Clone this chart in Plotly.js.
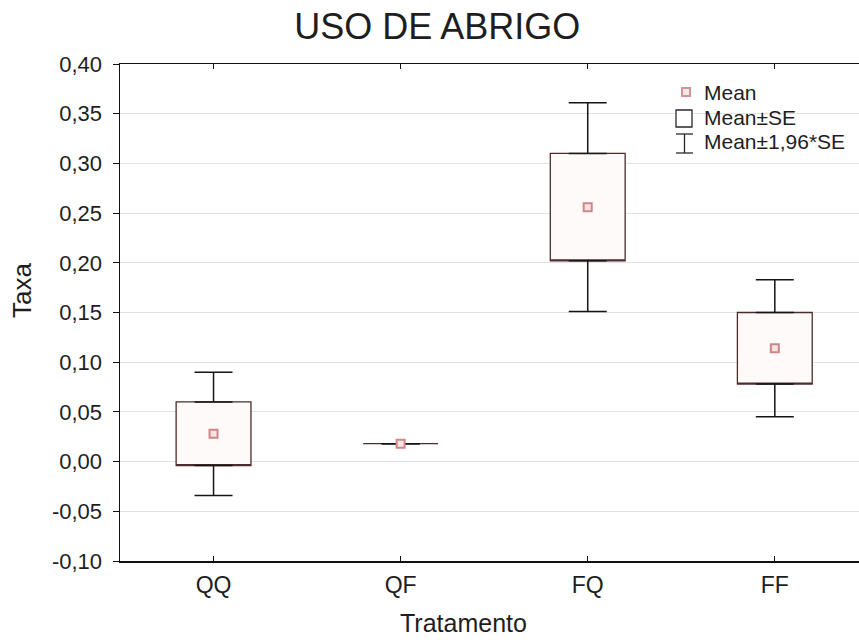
<!DOCTYPE html>
<html>
<head>
<meta charset="utf-8">
<script src="https://cdn.plot.ly/plotly-3.0.1.min.js"></script>
<style>html,body{margin:0;padding:0;background:#fff;}#chart{width:859px;height:640px;}</style>
</head>
<body>
<div id="chart"></div>
<script>
// Data
const categories = ['QQ', 'QF', 'FQ', 'FF'];
const meanVals   = [0.028, 0.018, 0.256, 0.114];
const seVals     = [0.032, 0.000, 0.054, 0.036];
const ci196Vals  = [0.062, 0.000, 0.105, 0.069];
const yTickVals  = [-0.10, -0.05, 0.00, 0.05, 0.10, 0.15, 0.20, 0.25, 0.30, 0.35, 0.40];
const yTickText  = ['-0,10', '-0,05', '0,00', '0,05', '0,10', '0,15', '0,20', '0,25', '0,30', '0,35', '0,40'];
const legendLabels = ['Mean', 'Mean±SE', 'Mean±1,96*SE'];

const FONT = 'Liberation Sans, Arial, sans-serif';
const TXT = '#1e1e1e';

const q1 = meanVals.map((m, i) => m - seVals[i]);
const q3 = meanVals.map((m, i) => m + seVals[i]);
const whisk = ci196Vals.map((c, i) => c - seVals[i]);
const zeros = categories.map(() => 0);

const traces = [
  { // boxes (Mean ± SE)
    type: 'box', x: categories, q1: q1, median: q1, q3: q3,
    lowerfence: q1, upperfence: q3,
    width: 0.4, fillcolor: '#fffafa', line: {color: '#4d2c2c', width: 1.3},
    showlegend: false, hoverinfo: 'skip'
  },
  { // upper whiskers (to Mean + 1,96*SE)
    type: 'scatter', x: categories, y: q3, mode: 'markers',
    marker: {size: 1, opacity: 0}, showlegend: false, hoverinfo: 'skip',
    error_y: {type: 'data', symmetric: false, array: whisk, arrayminus: zeros,
              visible: true, color: '#151515', thickness: 1.5, width: 19}
  },
  { // lower whiskers (to Mean - 1,96*SE)
    type: 'scatter', x: categories, y: q1, mode: 'markers',
    marker: {size: 1, opacity: 0}, showlegend: false, hoverinfo: 'skip',
    error_y: {type: 'data', symmetric: false, array: zeros, arrayminus: whisk,
              visible: true, color: '#151515', thickness: 1.5, width: 19}
  },
  { // means
    type: 'scatter', x: categories, y: meanVals, mode: 'markers',
    marker: {symbol: 'square', size: 8, color: '#f8e4e4', line: {color: '#cf8585', width: 2}},
    showlegend: false
  }
];

// pixel helpers for the hand-made legend (plot area: x 120..859, y 64..561)
const PX = v => (v - 120) / 739;
const PY = v => (561 - v) / 497;

const shapes = [
  {type: 'rect', xref: 'paper', yref: 'paper', x0: PX(682), x1: PX(690), y0: PY(96), y1: PY(88),
   line: {color: '#d69393', width: 2}, fillcolor: '#fae8e8'},
  {type: 'rect', xref: 'paper', yref: 'paper', x0: PX(676), x1: PX(692), y0: PY(127), y1: PY(110),
   line: {color: '#2a2a2a', width: 1.3}, fillcolor: '#ffffff'},
  {type: 'line', xref: 'paper', yref: 'paper', x0: PX(684.5), x1: PX(684.5), y0: PY(153), y1: PY(134),
   line: {color: '#2a2a2a', width: 1.3}},
  {type: 'line', xref: 'paper', yref: 'paper', x0: PX(676), x1: PX(693), y0: PY(134), y1: PY(134),
   line: {color: '#2a2a2a', width: 1.3}},
  {type: 'line', xref: 'paper', yref: 'paper', x0: PX(676), x1: PX(693), y0: PY(153), y1: PY(153),
   line: {color: '#2a2a2a', width: 1.3}}
];

const legY = [92, 117, 141.5];
const annotations = legendLabels.map((t, i) => ({
  text: t, xref: 'paper', yref: 'paper', x: PX(702), y: PY(legY[i]),
  xanchor: 'left', yanchor: 'middle', showarrow: false,
  font: {family: FONT, size: 21, color: TXT}
}));
annotations.push({
  text: 'Tratamento', xref: 'paper', yref: 'paper', x: PX(463), y: PY(623),
  xanchor: 'center', yanchor: 'middle', showarrow: false,
  font: {family: FONT, size: 25, color: TXT}
});
annotations.push({
  text: 'Taxa', xref: 'paper', yref: 'paper', x: PX(22), y: PY(290),
  xanchor: 'center', yanchor: 'middle', showarrow: false, textangle: -90,
  font: {family: FONT, size: 26, color: TXT}
});

const layout = {
  width: 859, height: 640,
  margin: {l: 120, r: 0, t: 64, b: 79, pad: 0},
  paper_bgcolor: '#ffffff', plot_bgcolor: '#ffffff',
  showlegend: false,
  font: {family: FONT, color: TXT},
  title: {text: 'USO DE ABRIGO', x: 0.509, xanchor: 'center', y: 0.958, yanchor: 'middle',
          font: {family: FONT, size: 36, color: TXT}},
  xaxis: {
    type: 'category', range: [-0.5, 3.45], showgrid: false, zeroline: false,
    showline: true, linecolor: '#111', linewidth: 1.5, mirror: 'ticks',
    ticks: 'inside', ticklen: 5, tickcolor: '#111', tickwidth: 1,
    tickfont: {family: FONT, size: 23, color: TXT}, ticklabelstandoff: 3
  },
  yaxis: {
    range: [-0.10, 0.40], tickmode: 'array', tickvals: yTickVals, ticktext: yTickText,
    showgrid: true, gridcolor: '#e2e2e2', gridwidth: 1, zeroline: false,
    showline: true, linecolor: '#111', linewidth: 1.5,
    ticks: 'outside', ticklen: 6, tickcolor: '#111', tickwidth: 1,
    tickfont: {family: FONT, size: 22, color: TXT}, ticklabelstandoff: 6
  },
  shapes: shapes,
  annotations: annotations
};

Plotly.newPlot('chart', traces, layout, {displayModeBar: false, staticPlot: true});
</script>
</body>
</html>
